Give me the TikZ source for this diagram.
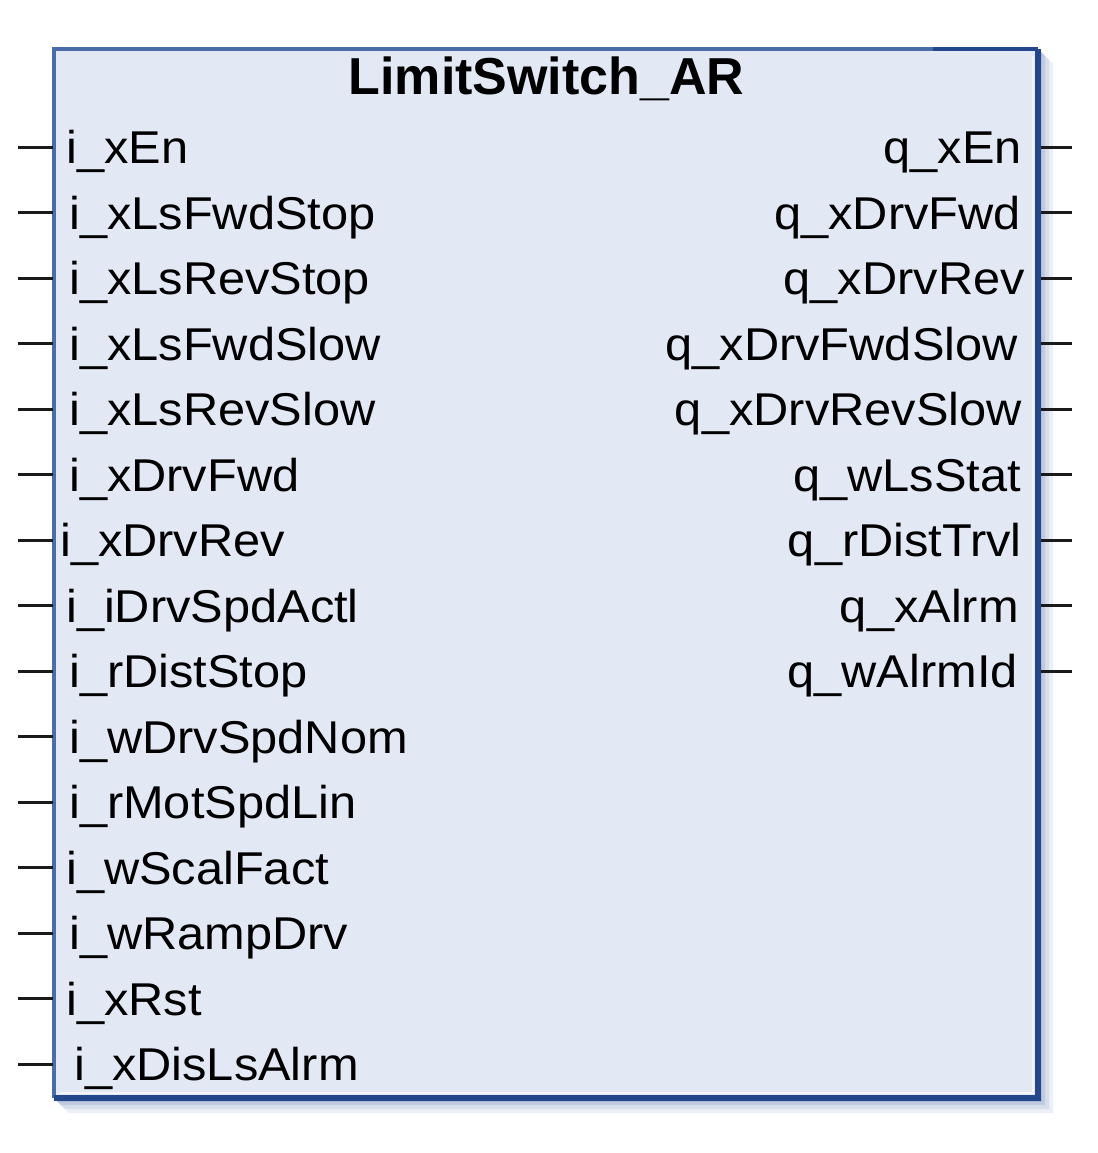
\documentclass[tikz,border=0pt]{standalone}
\usepackage{fontspec}
\setmainfont{Liberation Sans}[FakeStretch=1.06]
\newfontfamily\titlefont{Liberation Sans}[FakeStretch=1.0]
\definecolor{boxfill}{HTML}{E2E8F4}
\definecolor{edgelight}{HTML}{4A6DAA}
\definecolor{edgedark}{HTML}{23478A}
\definecolor{shadowcol}{HTML}{7F93C0}
\definecolor{pincol}{HTML}{1A1A1A}
\tikzset{
  pinline/.style={draw=pincol, line width=3pt},
  inlabel/.style={anchor=base west, inner sep=0pt, font=\fontsize{46}{50}\selectfont},
  outlabel/.style={anchor=base east, inner sep=0pt, font=\fontsize{46}{50}\selectfont},
  titlelabel/.style={anchor=base, inner sep=0pt, font=\titlefont\bfseries\fontsize{52}{56}\selectfont},
}
\begin{document}
\begin{tikzpicture}[x=1pt,y=-1pt]
\useasboundingbox (0,0) rectangle (1097,1153);
% shadow bevel
\foreach \d/\op in {15/0.15,11/0.2,7/0.25,4/0.3}{
  \fill[shadowcol, opacity=\op] (54,1098) -- (54+\d,1098+\d) -- (1038+\d,1098+\d) -- (1038+\d,49+\d) -- (1038,49) -- cycle;
}
% box
\node[draw=none, fill=boxfill, minimum width=984pt, minimum height=1049pt, inner sep=0pt, anchor=north west] (fb) at (54,49) {};
\draw[edgelight, line width=4pt] (fb.south west) -- (fb.north west) -- (fb.north east);
\draw[edgedark, line width=4pt] (933,49) -- (fb.north east);
\draw[white, opacity=0.6, line width=2pt] (1033,56) -- (1033,1093) -- (60,1093);
\draw[edgedark, line width=6pt] (fb.north east) -- (fb.south east) -- (fb.south west);
% title
\node[titlelabel] (title) at (546.5,95) {LimitSwitch\_AR};
% inputs
\foreach \k/\nm/\xx in {0/i\_xEn/66,1/i\_xLsFwdStop/69,2/i\_xLsRevStop/69,3/i\_xLsFwdSlow/69,4/i\_xLsRevSlow/69,5/i\_xDrvFwd/69,6/i\_xDrvRev/60,7/i\_iDrvSpdActl/66,8/i\_rDistStop/69,9/i\_wDrvSpdNom/69,10/i\_rMotSpdLin/69,11/i\_wScalFact/66,12/i\_wRampDrv/69,13/i\_xRst/66,14/i\_xDisLsAlrm/74}{
  \pgfmathsetmacro{\yy}{147+65.5*\k}
  \coordinate (pin\k) at (18,\yy);
  \coordinate (edge\k) at (53,\yy);
  \node[inlabel] (in\k) at (\xx,\yy+16.5) {\nm};
  \draw[pinline] (pin\k) -- (edge\k);
}
% outputs
\foreach \k/\nm/\xx in {0/q\_xEn/1022,1/q\_xDrvFwd/1021,2/q\_xDrvRev/1025,3/q\_xDrvFwdSlow/1018,4/q\_xDrvRevSlow/1022,5/q\_wLsStat/1021,6/q\_rDistTrvl/1022,7/q\_xAlrm/1019,8/q\_wAlrmId/1018}{
  \pgfmathsetmacro{\yy}{147+65.5*\k}
  \coordinate (opin\k) at (1072,\yy);
  \coordinate (oedge\k) at (1041,\yy);
  \node[outlabel] (out\k) at (\xx,\yy+16.5) {\nm};
  \draw[pinline] (oedge\k) -- (opin\k);
}
\end{tikzpicture}
\end{document}
